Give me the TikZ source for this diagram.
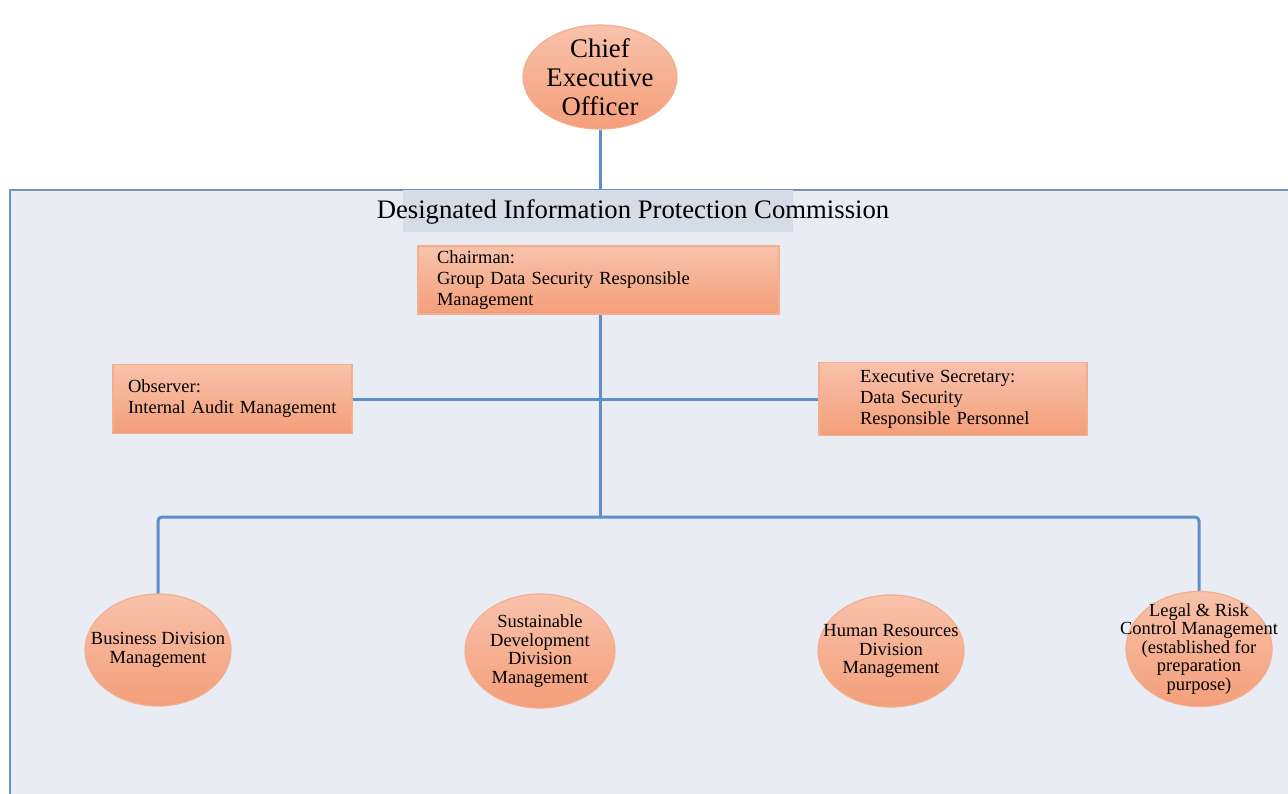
\documentclass[tikz,border=0pt]{standalone}
\usepackage{fontspec}
\setmainfont{Liberation Serif}
\usetikzlibrary{positioning,calc,shapes.geometric}

\definecolor{linkblue}{HTML}{5E8FCB}
\definecolor{panelfill}{HTML}{E9EDF3}
\definecolor{panelline}{HTML}{7393BA}
\definecolor{bandfill}{HTML}{D5DCE6}
\definecolor{salmontop}{HTML}{F8C2AB}
\definecolor{salmonbot}{HTML}{F49E7A}
\definecolor{salmonline}{HTML}{F2AE8E}

\tikzset{
  link/.style={draw=linkblue,line width=3pt},
  rolebox/.style={rectangle,draw=salmonline,line width=1.2pt,top color=salmontop,bottom color=salmonbot,
    align=left,font=\fontsize{18.5}{21}\selectfont,inner ysep=0pt},
  division/.style={ellipse,draw=salmonline,line width=1.2pt,top color=salmontop,bottom color=salmonbot,inner sep=0pt},
  divtext/.style={align=center,font=\fontsize{18.5}{18.5}\selectfont},
}

\begin{document}
\begin{tikzpicture}[x=1pt,y=-1pt]
    \useasboundingbox (0,0) rectangle (1288,794);

    % commission panel
    \draw[fill=panelfill,draw=panelline,line width=2pt] (10,190) rectangle (1310,815);
    \coordinate (top) at (600,190);
    \node[fill=bandfill,minimum width=390pt,minimum height=42pt,inner sep=0pt] (band) at (598,211) {};
    \node[font=\fontsize{26.7}{29}\selectfont,inner sep=0pt] (title) at (633,212) {Designated Information Protection Commission};

    % chief executive
    \node[division,minimum width=154pt,minimum height=104pt,
      label={[align=center,font=\fontsize{26.8}{29}\selectfont]center:Chief\\Executive\\Officer}] (ceo) at (600,77) {};

    % commission roles
    \node[rolebox,minimum width=361pt,minimum height=68pt,text width=323pt,inner xsep=19pt] (chair) at (598.5,280)
      {Chairman:\\Group Data Security Responsible\\Management};
    \node[rolebox,minimum width=239pt,minimum height=69pt,text width=209pt,inner xsep=15pt] (obs) at (232.5,399)
      {Observer:\\Internal Audit Management\\[4pt]};
    \node[rolebox,minimum width=268pt,minimum height=73pt,text width=186pt,inner xsep=41pt] (sec) at (953,399)
      {Executive Secretary:\\Data Security\\Responsible Personnel};

    % divisions
    \node[division,minimum width=146pt,minimum height=112pt,
      label={[divtext]center:Business Division\\Management}] (biz) at (158,650) {};
    \node[division,minimum width=150pt,minimum height=114pt,
      label={[divtext]center:Sustainable\\Development\\Division\\Management}] (sus) at (540,651) {};
    \node[division,minimum width=146pt,minimum height=112pt,
      label={[divtext]center:Human Resources\\Division\\Management}] (hr) at (891,651) {};
    \node[division,minimum width=146pt,minimum height=115pt,
      label={[divtext]center:Legal \& Risk\\Control Management\\(established for\\preparation\\purpose)}] (legal) at (1199,649) {};

    % connectors
    \coordinate (bus) at (600,517);
    \draw[link] (ceo) -- (top);
    \draw[link] (chair.south -| bus) -- (bus);
    \draw[link] (obs) -- (sec);
    \draw[link,rounded corners=4pt] (biz.north) |- (bus) -| (legal.north);
  \end{tikzpicture}
\end{document}
